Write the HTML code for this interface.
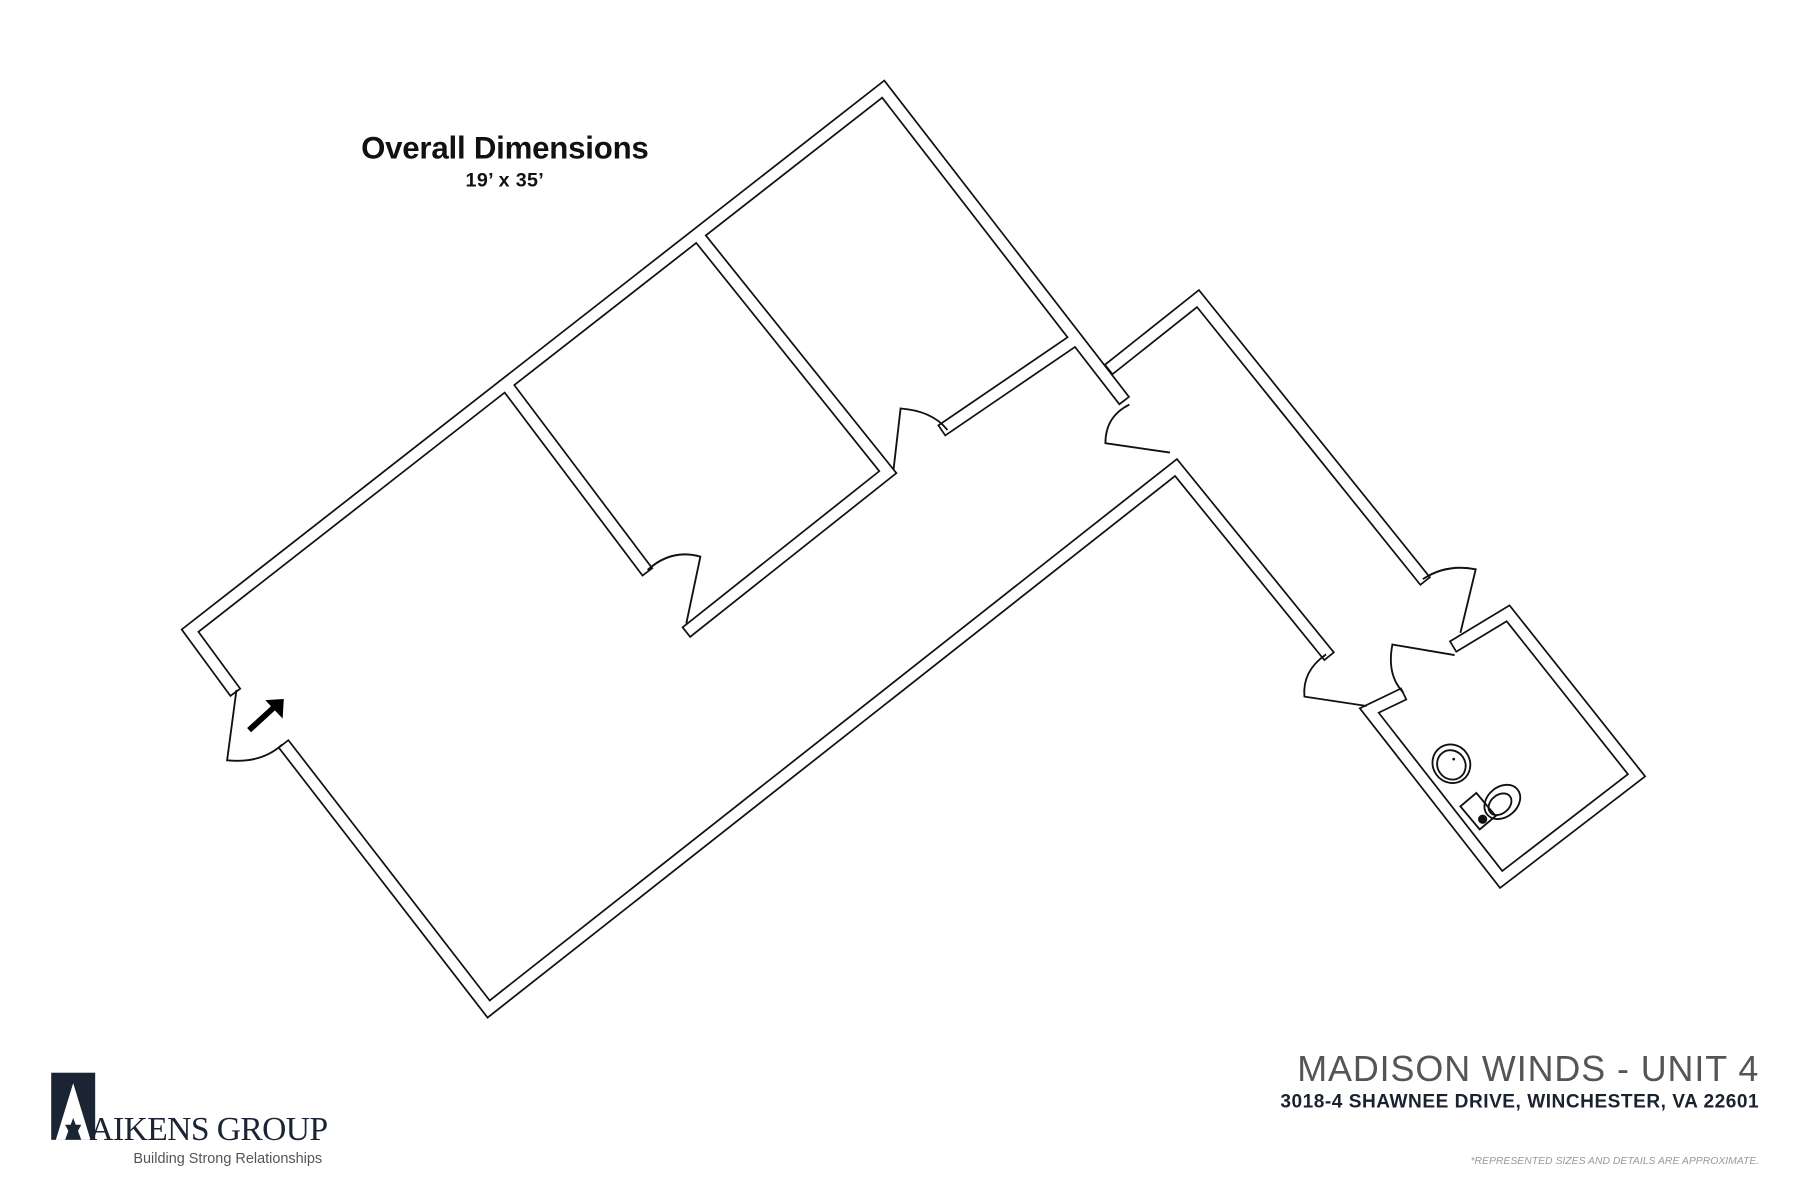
<!DOCTYPE html>
<html><head><meta charset="utf-8"><style>
html,body{margin:0;padding:0;background:#fff;}
svg{display:block;}
</style></head><body>
<svg width="1800" height="1200" viewBox="0 0 1555 1037" xmlns="http://www.w3.org/2000/svg">
<rect width="1555" height="1037" fill="#fff"/>
<g fill="none" stroke-linecap="square" stroke-linejoin="miter">
<g stroke="#111" stroke-width="12">
<polyline points="200,594 164,545 763,77 968,342"/>
<polyline points="925,296 818,369"/>
<polyline points="605,206 767,408 597,543"/>
<polyline points="437,332 556,490"/>
<polyline points="248,647 422,872 1016,404 1145,563"/>
<polyline points="962,316 1035,258 1228,498"/>
<polyline points="1260,556 1303,530 1414,670 1297,760 1183,614 1208,602"/>
</g>
<g stroke="#fff" stroke-width="9">
<polyline points="200,594 164,545 763,77 968,342"/>
<polyline points="925,296 818,369"/>
<polyline points="605,206 767,408 597,543"/>
<polyline points="437,332 556,490"/>
<polyline points="248,647 422,872 1016,404 1145,563"/>
<polyline points="962,316 1035,258 1228,498"/>
<polyline points="1260,556 1303,530 1414,670 1297,760 1183,614 1208,602"/>
</g>
<g stroke="#111" stroke-width="1.6">
<path d="M204,597 L196,657 Q225,660 243,644"/>
<path d="M560,492 Q580,474 605,481 L593,538"/>
<path d="M778,353 L772,405 M778,353 Q805,355 818,371"/>
<path d="M975,350 Q955,360 955,383 L1010,391"/>
<path d="M1145,566 Q1125,580 1127,602 L1180,610"/>
<path d="M1230,500 Q1250,487 1275,492 L1262,546"/>
<path d="M1203,557 L1256,566 M1203,557 Q1198,583 1212,598"/>
<ellipse cx="1254" cy="660" rx="16" ry="17" transform="rotate(-35 1254 660)"/>
<ellipse cx="1254" cy="661" rx="12" ry="13" transform="rotate(-35 1254 661)"/>
<rect x="1268" y="688" width="18" height="26" transform="rotate(-40 1277 701)"/>
<ellipse cx="1298" cy="693" rx="17" ry="13" transform="rotate(-40 1298 693)"/>
<ellipse cx="1296" cy="695" rx="11" ry="8" transform="rotate(-40 1296 695)"/>
</g>
<circle cx="1281" cy="708" r="4" fill="#111"/>
<circle cx="1256" cy="656" r="1.2" fill="#111"/>
<g stroke="#000" stroke-width="5" stroke-linecap="butt">
<line x1="215" y1="631" x2="240" y2="608"/>
</g>
<polygon points="229,605 245,604 244,621" fill="#000"/>
</g>
<g font-family="Liberation Sans, sans-serif" fill="#111">
<text x="436" y="137" font-size="27" font-weight="bold" text-anchor="middle" letter-spacing="-0.2">Overall Dimensions</text>
<text x="436" y="161" font-size="17" font-weight="bold" text-anchor="middle" letter-spacing="0.3">19’ x 35’</text>
<text x="1520" y="934" font-size="31" text-anchor="end" fill="#555" letter-spacing="0.8">MADISON WINDS - UNIT 4</text>
<text x="1520" y="957" font-size="16.5" font-weight="bold" text-anchor="end" fill="#1a2230" letter-spacing="0.45">3018-4 SHAWNEE DRIVE, WINCHESTER, VA 22601</text>
<text x="1520" y="1006" font-size="9" font-style="italic" text-anchor="end" fill="#999">*REPRESENTED SIZES AND DETAILS ARE APPROXIMATE.</text>
</g>
<g>
<rect x="44" y="927" width="38" height="58" fill="#1a2433"/>
<polygon points="63,936 48,985 56,985 63,966 70,985 78,985" fill="#fff"/>
<polygon points="56,972 70,972 63,985" fill="#1a2433"/>
<text x="77" y="985" font-family="Liberation Serif, serif" font-size="29" fill="#1a2433" letter-spacing="-0.5">AIKENS GROUP</text>
<text x="115" y="1005" font-family="Liberation Sans, sans-serif" font-size="12.5" fill="#555">Building Strong Relationships</text>
</g>
</svg>
</body></html>
